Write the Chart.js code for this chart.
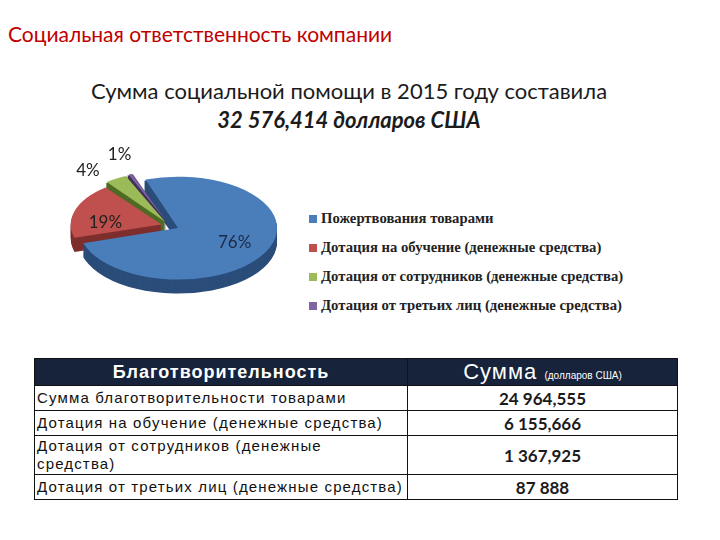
<!DOCTYPE html>
<html lang="ru">
<head>
<meta charset="utf-8">
<script src="https://cdn.jsdelivr.net/npm/chart.js@4.4.1/dist/chart.umd.min.js"></script>
<style>
  body { margin: 0; width: 720px; height: 540px; background: #fff; position: relative; overflow: hidden; font-family: Lato, "Open Sans", sans-serif; }
  .title { position: absolute; left: 8px; top: 21px; font-size: 21px; color: #c00000; white-space: nowrap; }
  .sub { position: absolute; left: 0; width: 698px; text-align: center; color: #1b1b1b; white-space: nowrap; }
  .sub1 { top: 77px; font-size: 22px; }
  .sub2 { top: 106px; font-size: 22px; font-weight: bold; font-style: italic; }
  #pieBox { position: absolute; left: 50px; top: 126px; width: 240px; height: 200px; }
  #legend { position: absolute; left: 309px; top: 210px; font-family: "Liberation Serif", serif; font-weight: bold; font-size: 14.7px; color: #222; }
  #legend div { height: 29px; white-space: nowrap; }
  #legend span { display: inline-block; width: 8px; height: 8px; margin-right: 4px; }
  table { position: absolute; left: 34px; top: 358px; width: 644px; border-collapse: collapse; }
  td, th { border: 1px solid #111; padding: 0 2px; }
  th { background: #17223b; color: #fff; height: 24px; font-family: "Liberation Sans", Arial, sans-serif; font-weight: normal; }
  th.c1 { font-size: 18px; font-weight: bold; letter-spacing: 1px; width: 368px; }
  th.c2 { font-size: 22px; letter-spacing: 1px; }
  th.c2 small { font-size: 10px; letter-spacing: 0; }
  td.lab { font-family: "Liberation Sans", Arial, sans-serif; font-size: 15px; letter-spacing: 1.15px; color: #111; height: 24px; line-height: 18px; }
  tr.tall td { height: 38px; }
  td.val { text-align: center; font-family: Lato, sans-serif; font-weight: bold; font-size: 17px; color: #1b1b1b; }
</style>
</head>
<body>
<div class="title">Социальная ответственность компании</div>
<div class="sub sub1">Сумма социальной помощи в 2015 году составила</div>
<div class="sub sub2">32 576,414 долларов США</div>
<div id="pieBox"><canvas id="pie"></canvas></div>
<div id="legend"></div>
<table id="tbl"></table>
<script>
const categories = [
  "Пожертвования товарами",
  "Дотация на обучение (денежные средства)",
  "Дотация от сотрудников (денежные средства)",
  "Дотация от третьих лиц (денежные средства)"
];
const shares = [76, 19, 4, 1];
const tableLabels = [
  "Сумма благотворительности товарами",
  "Дотация на обучение (денежные средства)",
  "Дотация от сотрудников (денежные<br>средства)",
  "Дотация от третьих лиц (денежные средства)"
];
const amounts = ["24 964,555", "6 155,666", "1 367,925", "87 888"];

const topColors = ["#4a7ebb", "#c0504d", "#9bbb59", "#8064a2"];
const sideColors = ["#2b4d7a", "#7e2f2d", "#4f6a22", "#40305a"];
const tilt = 0.52;
const depth = 14;
// where each % label sits: fraction along the slice, radius factor
const labelAlong = [0.5, 0.3, 0.0, 1.0];
const labelFactor = [0.64, 0.62, 1.3, 1.4];

// faux 3d: squash the pie and paint the sides under it
const pie3d = {
  id: "pie3d",
  beforeDatasetsDraw(chart) {
    const ctx = chart.ctx;
    const arcs = chart.getDatasetMeta(0).data;
    const { x, y } = arcs[0];
    ctx.save();
    ctx.translate(x, y);
    ctx.scale(1, tilt);
    ctx.translate(-x, -y);
    for (let k = depth; k >= 1; k--) {
      arcs.forEach((arc, i) => {
        const g = geom(arc);
        ctx.beginPath();
        ctx.moveTo(g.cx, g.cy + k / tilt);
        ctx.arc(g.cx, g.cy + k / tilt, g.r, arc.startAngle, arc.endAngle);
        ctx.closePath();
        ctx.fillStyle = sideColors[i];
        ctx.fill();
      });
    }
  },
  afterDatasetsDraw(chart) {
    const ctx = chart.ctx;
    ctx.restore();
    const arcs = chart.getDatasetMeta(0).data;
    ctx.save();
    ctx.font = "17px Lato, sans-serif";
    ctx.textAlign = "center";
    ctx.textBaseline = "middle";
    arcs.forEach((arc, i) => {
      const g = geom(arc);
      const a = arc.startAngle + (arc.endAngle - arc.startAngle) * labelAlong[i];
      const rr = g.r * labelFactor[i];
      const px = g.cx + Math.cos(a) * rr;
      const py = arc.y + (g.cy - arc.y + Math.sin(a) * rr) * tilt;
      ctx.fillStyle = i === 0 ? "#1c2a48" : "#222";
      ctx.fillText(shares[i] + "%", px, py);
    });
    ctx.restore();
  }
};

// same offset maths as Chart.js ArcElement.draw
function geom(arc) {
  const mid = (arc.startAngle + arc.endAngle) / 2;
  const off = (arc.options.offset || 0) / 4;
  const fix = 1 - Math.sin(Math.min(Math.PI, arc.endAngle - arc.startAngle));
  return {
    mid,
    cx: arc.x + Math.cos(mid) * off,
    cy: arc.y + Math.sin(mid) * off,
    r: arc.outerRadius + off * fix
  };
}

new Chart(document.getElementById("pie"), {
  type: "pie",
  data: {
    labels: categories,
    datasets: [{
      data: shares,
      backgroundColor: topColors,
      borderWidth: 0,
      offset: 36
    }]
  },
  options: {
    responsive: true,
    maintainAspectRatio: false,
    animation: false,
    rotation: -20,
    radius: 90,
    events: [],
    plugins: {
      legend: { display: false },
      tooltip: { enabled: false }
    }
  },
  plugins: [pie3d]
});

const legend = document.getElementById("legend");
categories.forEach((name, i) => {
  const row = document.createElement("div");
  row.innerHTML = `<span style="background:${topColors[i]}"></span>${name}`;
  legend.appendChild(row);
});

const tbl = document.getElementById("tbl");
let html = `<tr><th class="c1">Благотворительность</th><th class="c2">Сумма <small>(долларов США)</small></th></tr>`;
tableLabels.forEach((label, i) => {
  html += `<tr${i === 2 ? ' class="tall"' : ""}><td class="lab">${label}</td><td class="val">${amounts[i]}</td></tr>`;
});
tbl.innerHTML = html;
</script>
</body>
</html>
